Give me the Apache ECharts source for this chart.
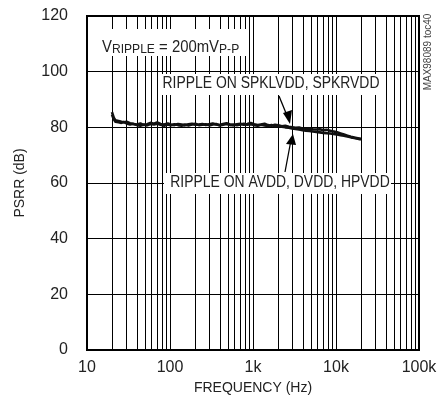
<!DOCTYPE html>
<html><head><meta charset="utf-8">
<script src="https://cdn.jsdelivr.net/npm/echarts@6/dist/echarts.min.js"></script>
<style>html,body{margin:0;padding:0;background:#fff}#c{width:445px;height:409px}</style>
</head><body><div id="c"></div>
<script>
// ---- data ----
var freq = [20,21,22,24,26,28,30,33,36,40,44,48,53,58,64,70,77,85,94,103,113,125,138,152,167,184,202,223,245,270,297,327,360,396,436,480,528,581,640,704,775,853,939,1033,1137,1251,1377,1516,1668,1836,2021,2224,2448,2694,2965,3263,3591,3952,4350,4787,5269,5799,6382,7024,7730,8507,9363,10304,11340,12480,13735,15116,16636,18309,20000];
var psrrSpk = [85.5,83.5,82.5,82.3,82,81.8,82,81.5,81.2,81,81.4,80.8,81.1,81.6,81.3,81.8,81.2,81.0,81.4,81.0,80.8,81.2,81.0,80.7,81.1,81.3,80.9,81.0,81.2,80.8,81.1,81.4,81.0,80.8,81.2,81.5,81.0,80.7,81.1,81.3,80.9,81.2,81.6,81.1,80.8,81.0,81.3,80.8,80.6,80.9,80.7,80.4,80.6,80.2,80.0,79.8,79.9,79.6,79.5,79.6,79.3,79.2,79.3,79.0,79.1,78.8,78.5,78.2,77.8,77.4,77.0,76.6,76.3,76.1,75.9];
var psrrAvdd = [84.5,83.0,82.0,81.8,81.6,81.9,81.4,81.0,81.3,80.8,80.6,81.0,80.7,81.2,81.0,81.3,80.9,80.6,81.0,80.7,81.1,80.8,80.6,81.0,80.7,81.0,81.3,80.8,80.9,81.1,80.7,81.0,81.2,80.7,80.9,81.2,80.8,81.0,80.8,81.0,81.3,80.9,81.1,80.8,80.6,80.9,80.7,80.5,80.8,80.4,80.5,80.2,80.0,79.9,79.6,79.4,79.2,79.0,78.8,78.7,78.5,78.3,78.2,78.0,77.9,77.8,77.6,77.4,77.2,77.0,76.7,76.4,76.2,75.9,75.6];
var minorFreqs = [20,30,40,50,60,70,80,90,200,300,400,500,600,700,800,900,2000,3000,4000,5000,6000,7000,8000,9000,20000,30000,40000,50000,60000,70000,80000,90000];
var xTickValues = [10,100,1000,10000,100000];
var xTickLabels = ['10','100','1k','10k','100k'];
var yTicks = [0,20,40,60,80,100,120];

var FONT = "'Liberation Sans Narrow','Arial Narrow','Liberation Sans',sans-serif";
var chart = echarts.init(document.getElementById('c'), null, {renderer:'canvas'});

function pairs(xs, ys){ return xs.map(function(x,i){return [x, ys[i]];}); }

var option = {
  animation:false,
  backgroundColor:'#fff',
  grid:{left:87,right:26,top:16,bottom:59,show:true,borderColor:'#000',borderWidth:2,backgroundColor:'transparent'},
  xAxis:{type:'log',logBase:10,min:10,max:100000,
    axisLine:{show:false},axisTick:{show:false},
    splitLine:{show:true,lineStyle:{color:'#000',width:1}},
    axisLabel:{fontFamily:FONT,fontSize:16,color:'#222',margin:10,
      formatter:function(v){var i=xTickValues.indexOf(Math.round(v));return i>=0?xTickLabels[i]:'';}},
    name:'FREQUENCY (Hz)',nameLocation:'middle',nameGap:31,
    nameTextStyle:{fontFamily:FONT,fontSize:14,color:'#222'}},
  yAxis:{type:'value',min:yTicks[0],max:yTicks[yTicks.length-1],interval:20,
    axisLine:{show:false},axisTick:{show:false},
    splitLine:{show:true,lineStyle:{color:'#000',width:1}},
    axisLabel:{fontFamily:FONT,fontSize:16,color:'#222',margin:19},
    name:'PSRR (dB)',nameLocation:'middle',nameGap:60,
    nameTextStyle:{fontFamily:FONT,fontSize:14,color:'#222'}},
  series:[
    {type:'line',name:'RIPPLE ON SPKLVDD, SPKRVDD',data:pairs(freq,psrrSpk),showSymbol:false,
      lineStyle:{color:'#111',width:2.6},z:5,
      markLine:{silent:true,symbol:['none','none'],label:{show:false},
        lineStyle:{color:'#000',width:1,type:'solid'},
        data:minorFreqs.map(function(f){return {xAxis:f};})}},
    {type:'line',name:'RIPPLE ON AVDD, DVDD, HPVDD',data:pairs(freq,psrrAvdd),showSymbol:false,
      lineStyle:{color:'#111',width:2.6},z:5}
  ]
};
chart.setOption(option);

chart.setOption({graphic:[
  {type:'rect',zlevel:1,z:100,shape:{x:95,y:29,width:152,height:27},style:{fill:'#fff'}},
  {type:'text',zlevel:1,z:101,x:102,y:46,scaleX:0.93,style:{
    text:'{m|V}{s|RIPPLE}{m| = 200mV}{s|P-P}',verticalAlign:'middle',
    rich:{m:{fontFamily:FONT,fontSize:16,fill:'#222',lineHeight:20,verticalAlign:'bottom'},
          s:{fontFamily:FONT,fontSize:13,fill:'#222',lineHeight:12,verticalAlign:'bottom'}}}},
  {type:'rect',zlevel:1,z:100,shape:{x:160,y:74,width:226,height:21},style:{fill:'#fff'}},
  {type:'text',zlevel:1,z:101,x:271,y:84,scaleX:0.87,style:{text:'RIPPLE ON SPKLVDD, SPKRVDD',fontFamily:FONT,fontSize:16,fill:'#222',align:'center',verticalAlign:'middle'}},
  {type:'rect',zlevel:1,z:100,shape:{x:164,y:173,width:227,height:21},style:{fill:'#fff'}},
  {type:'text',zlevel:1,z:101,x:280,y:183,scaleX:0.87,style:{text:'RIPPLE ON AVDD, DVDD, HPVDD',fontFamily:FONT,fontSize:16,fill:'#222',align:'center',verticalAlign:'middle'}},
  {type:'line',zlevel:1,z:101,shape:{x1:279,y1:96,x2:288,y2:118},style:{stroke:'#000',lineWidth:1.3}},
  {type:'polygon',zlevel:1,z:101,shape:{points:[[290,124],[283,113],[292,110]]},style:{fill:'#000'}},
  {type:'line',zlevel:1,z:101,shape:{x1:285,y1:172,x2:291,y2:140},style:{stroke:'#000',lineWidth:1.3}},
  {type:'polygon',zlevel:1,z:101,shape:{points:[[293,134],[286,144],[296,145]]},style:{fill:'#000'}},
  {type:'text',zlevel:1,z:101,x:428,y:52,rotation:Math.PI/2,style:{text:'MAX98089 toc40',fontFamily:FONT,fontSize:10,fill:'#444',align:'center',verticalAlign:'middle'}}
]});
</script></body></html>
